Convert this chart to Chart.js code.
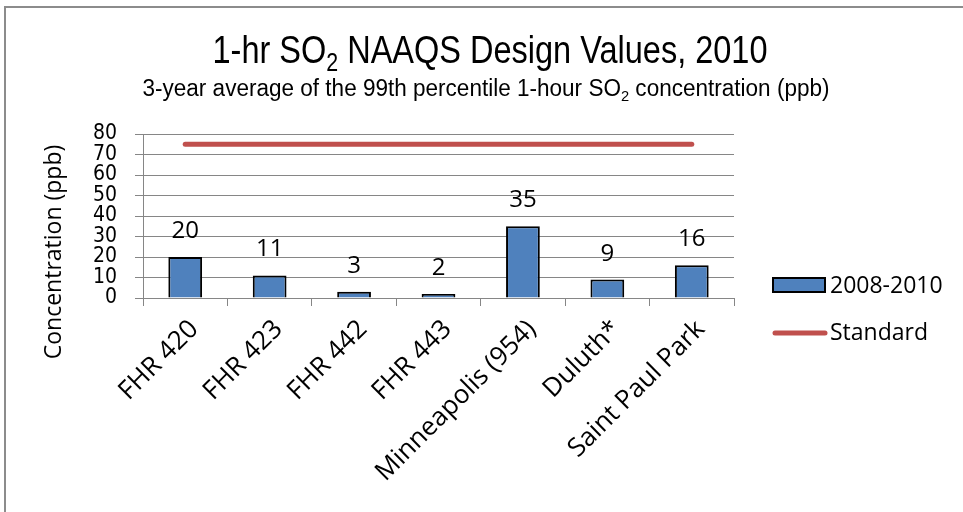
<!DOCTYPE html>
<html>
<head>
<meta charset="utf-8">
<script src="https://cdn.jsdelivr.net/npm/chart.js@4.4.1/dist/chart.umd.min.js"></script>
<style>
  html, body { margin: 0; padding: 0; background: #fff; }
  #wrap { width: 963px; height: 512px; position: relative; }
</style>
</head>
<body>
<div id="wrap"><canvas id="so2Chart" width="963" height="512"></canvas></div>
<script>
// ─── Data ─────────────────────────────────────────────────
const sites = ['FHR 420', 'FHR 423', 'FHR 442', 'FHR 443', 'Minneapolis (954)', 'Duluth*', 'Saint Paul Park'];
const designValues = [20, 11, 3, 2, 35, 9, 16];
const standardValues = [75, 75, 75, 75, 75, 75, 75];
const yMin = 0, yMax = 80, yStep = 10;

const titleParts = [['1-hr SO', false], ['2', true], [' NAAQS Design Values, 2010', false]];
const subtitleParts = [['3-year average of the 99th percentile 1-hour SO', false], ['2', true], [' concentration (ppb)', false]];

const CONDENSED = "'DejaVu Sans Condensed', 'Liberation Sans', sans-serif";
const SANS = "'Open Sans', 'Liberation Sans', sans-serif";

// ─── Helpers ──────────────────────────────────────────────
// draws text with subscript pieces, squeezed horizontally to a target width
function drawRich(c, parts, size, cx, baseline, targetW) {
  const subSize = Math.round(size * 0.65);
  const widths = parts.map(([t, sub]) => {
    c.font = `${sub ? subSize : size}px 'Liberation Sans', sans-serif`;
    return c.measureText(t).width;
  });
  const total = widths.reduce((a, b) => a + b, 0);
  const sx = targetW / total;
  c.save();
  c.translate(cx - targetW / 2, baseline);
  c.scale(sx, 1);
  c.fillStyle = '#000';
  c.textBaseline = 'alphabetic';
  c.textAlign = 'left';
  let x = 0;
  parts.forEach(([t, sub], i) => {
    c.font = `${sub ? subSize : size}px 'Liberation Sans', sans-serif`;
    c.fillText(t, x, sub ? size * 0.22 : 0);
    x += widths[i];
  });
  c.restore();
}

// ─── Plugins ──────────────────────────────────────────────
const framePlugin = {
  id: 'frame',
  beforeDraw(chart) {
    const c = chart.ctx;
    c.save();
    c.strokeStyle = '#8c8c8c';
    c.lineWidth = 2;
    c.strokeRect(5, 7, 1200, 800);
    c.restore();
  }
};

const headings = {
  id: 'headings',
  afterDraw(chart) {
    const c = chart.ctx;
    drawRich(c, titleParts, 38, 490, 63, 555);
    drawRich(c, subtitleParts, 23, 486, 96, 687);
  }
};

const valueLabels = {
  id: 'valueLabels',
  afterDatasetsDraw(chart) {
    const c = chart.ctx;
    const meta = chart.getDatasetMeta(0);
    c.save();
    c.font = `24px ${SANS}`;
    c.fillStyle = '#000';
    c.textAlign = 'center';
    c.textBaseline = 'alphabetic';
    meta.data.forEach((bar, i) => {
      c.fillText(String(chart.data.datasets[0].data[i]), bar.x, bar.y - 19);
    });
    c.restore();
  }
};

const yTitle = {
  id: 'yTitle',
  afterDraw(chart) {
    const c = chart.ctx;
    c.save();
    c.translate(54, 252);
    c.rotate(-Math.PI / 2);
    c.font = `23px ${SANS}`;
    c.fillStyle = '#000';
    c.textAlign = 'center';
    c.textBaseline = 'middle';
    c.fillText('Concentration (ppb)', 0, 0);
    c.restore();
  }
};

const sideLegend = {
  id: 'sideLegend',
  afterDraw(chart) {
    const c = chart.ctx;
    const [bars, std] = chart.data.datasets;
    c.save();
    c.font = `23px ${SANS}`;
    c.textBaseline = 'middle';
    // bar swatch
    c.fillStyle = bars.backgroundColor;
    c.fillRect(773, 278, 52, 14);
    c.strokeStyle = bars.borderColor;
    c.lineWidth = 2;
    c.strokeRect(773, 278, 52, 14);
    c.fillStyle = '#000';
    c.fillText(bars.label, 830, 286);
    // line swatch
    c.strokeStyle = std.borderColor;
    c.lineWidth = std.borderWidth;
    c.lineCap = 'round';
    c.beginPath();
    c.moveTo(775, 333);
    c.lineTo(825, 333);
    c.stroke();
    c.fillText(std.label, 830, 333);
    c.restore();
  }
};

// ─── Chart ────────────────────────────────────────────────
new Chart(document.getElementById('so2Chart'), {
  type: 'bar',
  data: {
    labels: sites,
    datasets: [
      {
        label: '2008-2010',
        data: designValues,
        backgroundColor: '#4F81BD',
        borderColor: '#000000',
        borderWidth: 2,
        categoryPercentage: 1,
        barPercentage: 0.4,
      },
      {
        type: 'line',
        label: 'Standard',
        data: standardValues,
        borderColor: '#C0504D',
        borderWidth: 5,
        borderCapStyle: 'round',
        pointRadius: 0,
        fill: false,
      },
    ],
  },
  options: {
    responsive: false,
    animation: false,
    layout: { padding: { left: 0, right: 229, top: 134, bottom: 0 } },
    plugins: {
      legend: { display: false },
      tooltip: { enabled: false },
    },
    scales: {
      x: {
        offset: true,
        grid: { offset: true, drawOnChartArea: false, drawTicks: true, tickLength: 8, color: '#868686' },
        border: { display: true, color: '#868686', width: 1 },
        ticks: {
          color: '#000',
          font: { family: SANS, size: 26 },
          minRotation: 45,
          maxRotation: 45,
          autoSkip: false,
          padding: 8,
          labelOffset: 9,
        },
        afterFit: s => { s.height = 214; },
      },
      y: {
        min: yMin,
        max: yMax,
        grid: { color: '#868686', tickLength: 8 },
        border: { display: true, color: '#868686', width: 1 },
        ticks: {
          stepSize: yStep,
          autoSkip: false,
          color: '#000',
          padding: 18,
          font: { family: CONDENSED, size: 21, lineHeight: 1 },
        },
        afterFit: s => { s.width = 143; },
      },
    },
  },
  plugins: [framePlugin, headings, valueLabels, yTitle, sideLegend],
});
</script>
</body>
</html>
